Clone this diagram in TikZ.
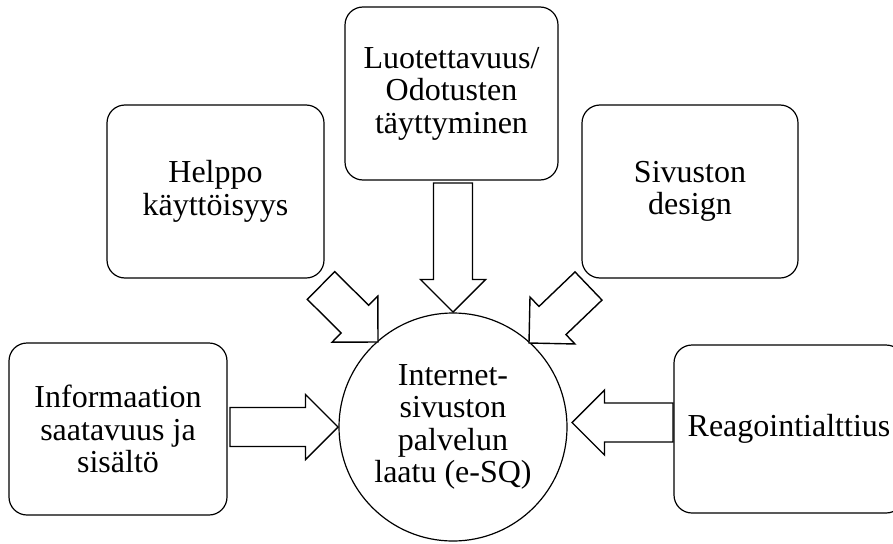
\documentclass[tikz,border=0pt]{standalone}
\usepackage{fontspec}
\setmainfont{Liberation Serif}
\usetikzlibrary{calc}
\tikzset{
  x=1pt,y=-1pt,
  boxnode/.style={draw,line width=1.2pt,rounded corners=18pt,align=center,inner sep=0pt,
    font=\fontsize{32}{32.5}\selectfont},
  circnode/.style={draw,line width=1.2pt,circle,minimum size=228pt,align=center,inner sep=0pt,
    font=\fontsize{32}{32.5}\selectfont},
  blockarr/.style={draw,line width=1.4pt,fill=white,line join=miter}
}
\newcommand\blockarrow[2]{%
  \draw[blockarr] ($(#1)!19.5pt!90:(#2)$)
    -- ($($(#2)!32.5pt!(#1)$)!19.5pt!-90:(#1)$)
    -- ($($(#2)!32.5pt!(#1)$)!32.5pt!-90:(#1)$)
    -- (#2)
    -- ($($(#2)!32.5pt!(#1)$)!32.5pt!90:(#1)$)
    -- ($($(#2)!32.5pt!(#1)$)!19.5pt!90:(#1)$)
    -- ($(#1)!19.5pt!-90:(#2)$) -- cycle;}
\begin{document}
\begin{tikzpicture}
\useasboundingbox (0,0) rectangle (893,543);
\begin{scope}
\clip (0,0) rectangle (893,543);
\node[boxnode,minimum width=217pt,minimum height=173pt] (helppo) at (215.5,191.5) {Helppo\\käyttöisyys};
\node[boxnode,minimum width=213pt,minimum height=173pt] (luot) at (451.5,93.5) {Luotettavuus/\\Odotusten\\täyttyminen};
\node[boxnode,minimum width=216pt,minimum height=173pt] (sivu) at (690,191.5) {Sivuston\\design};
\node[boxnode,minimum width=218pt,minimum height=172pt] (info) at (118,429) {Informaation\\saatavuus ja\\sisältö};
\node[boxnode,minimum width=230pt,minimum height=168pt] (reag) at (789,429) {Reagointialttius};
\node[circnode] (esq) at (453,427) {Internet-\\sivuston\\palvelun\\laatu (e-SQ)};

\coordinate (a1s) at (230,427);   \coordinate (a1e) at (338,427);
\coordinate (a2s) at (673,422.5); \coordinate (a2e) at (572,422.5);
\coordinate (a3s) at (453,183);   \coordinate (a3e) at (453,312);
\coordinate (a4s) at (321,285.5); \coordinate (a4e) at (378,342);
\coordinate (a5s) at (588.5,286); \coordinate (a5e) at (529,343);
\blockarrow{a1s}{a1e}
\blockarrow{a2s}{a2e}
\blockarrow{a3s}{a3e}
\blockarrow{a4s}{a4e}
\blockarrow{a5s}{a5e}
\end{scope}
\end{tikzpicture}
\end{document}
